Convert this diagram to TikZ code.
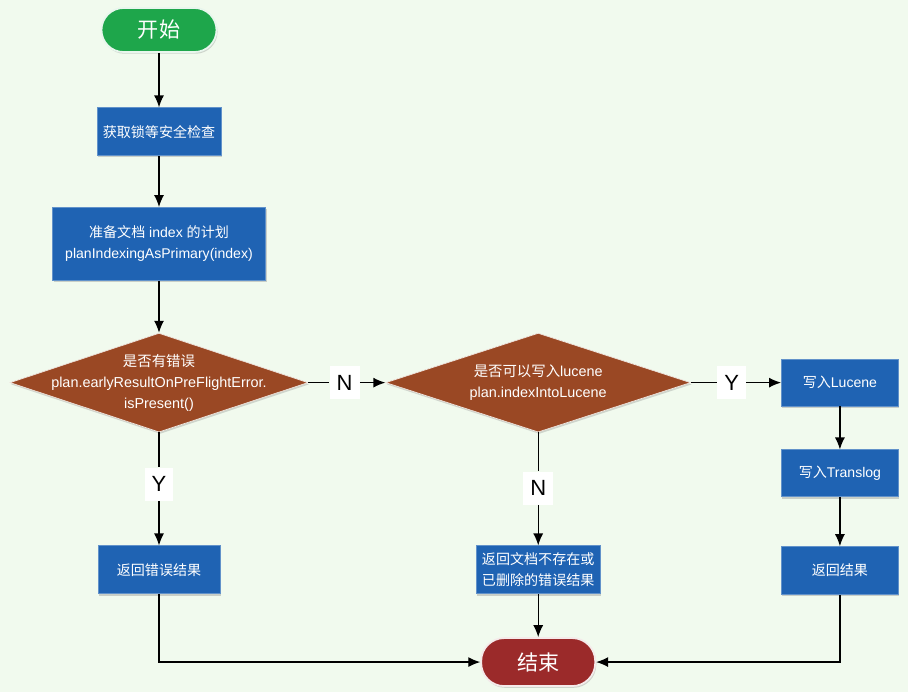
\documentclass[tikz,border=0pt]{standalone}
\usepackage{fontspec}
\setmainfont{Liberation Sans}
\newfontfamily\cjk{Noto Sans CJK SC}
\usepackage{xcolor}
\usetikzlibrary{arrows.meta, positioning, shapes.geometric, shadows}
\definecolor{fcbg}{HTML}{F1FAEE}
\definecolor{fcblue}{HTML}{1F63B3}
\definecolor{fcbrown}{HTML}{9A4824}
\definecolor{fcgreen}{HTML}{1EA64B}
\definecolor{fcred}{HTML}{9B2A2A}

\begin{document}
\begin{tikzpicture}[
  proc/.style={rectangle, fill=fcblue, draw=fcblue!70!white, text=white,
    minimum width=#1, minimum height=0.96cm, align=center,
    font=\fontsize{8}{12}\selectfont,
    drop shadow={shadow xshift=0.6pt, shadow yshift=-1pt, opacity=0.35}},
  proc/.default=2.44cm,
  decision/.style={diamond, fill=fcbrown, draw=white!85!fcbrown, thin,
    minimum width=#1, minimum height=1.98cm, inner sep=0pt,
    drop shadow={shadow xshift=0.6pt, shadow yshift=-1pt, opacity=0.3}},
  dtext/.style={text=white, align=center, font=\fontsize{8.2}{12}\selectfont},
  terminal/.style={rectangle, rounded corners=0.44cm, fill=#1, draw=white!90!#1,
    line width=1pt, text=white, minimum width=2.3cm, minimum height=0.88cm,
    font=\cjk\fontsize{12}{14}\selectfont,
    drop shadow={shadow xshift=0.6pt, shadow yshift=-1pt, opacity=0.3}},
  yn/.style={fill=white, font=\fontsize{12.5}{14}\selectfont, inner xsep=4pt, inner ysep=5pt},
  link/.style={-{Latex[length=2.4mm, width=2mm]}, line width=0.75pt},
  node distance=1.1cm,
]
  \fill[fcbg] (0,0) rectangle (18.16,-13.84);
  \useasboundingbox (0,0) rectangle (18.16,-13.84);

  % main column
  \node[terminal=fcgreen] (start) at (3.18,-0.60) {开始};
  \node[proc, below=1.09cm of start] (lock) {{\cjk 获取锁等安全检查}};
  \node[proc=4.26cm, minimum height=1.46cm, below=1.02cm of lock] (plan)
    {{\cjk 准备文档} index {\cjk 的计划}\\planIndexingAsPrimary(index)};
  \node[decision=5.96cm, below=1.04cm of plan] (haserr) {};
  \node[dtext] (haserrtxt) at (haserr) {{\cjk 是否有错误}\\plan.earlyResultOnPreFlightError.\\isPresent()};
  \node[proc, below=2.26cm of haserr] (reterr) {{\cjk 返回错误结果}};

  % middle column
  \node[decision=6.10cm, right=1.54cm of haserr] (canwrite) {};
  \node[dtext] (canwritetxt) at (canwrite) {{\cjk 是否可以写入}lucene\\plan.indexIntoLucene};
  \node[proc=2.48cm, below=2.26cm of canwrite] (retgone)
    {{\cjk 返回文档不存在或}\\{\cjk 已删除的错误结果}};
  \node[terminal=fcred, minimum width=2.28cm, minimum height=0.96cm,
    rounded corners=0.46cm, below=0.86cm of retgone] (finish) {结束};

  % right column
  \node[proc=2.34cm, minimum height=0.94cm, right=1.8cm of canwrite] (lucene) {{\cjk 写入}Lucene};
  \node[proc=2.34cm, minimum height=0.94cm, below=0.86cm of lucene] (translog) {{\cjk 写入}Translog};
  \node[proc=2.34cm, below=0.98cm of translog] (retok) {{\cjk 返回结果}};

  % Y / N labels
  \node[yn, right=0.42cm of haserr] (errN) {N};
  \node[yn, below=0.7cm of haserr] (errY) {Y};
  \node[yn, right=0.52cm of canwrite] (writeY) {Y};
  \node[yn, below=0.78cm of canwrite] (writeN) {N};

  \draw[link] (start) -- (lock);
  \draw[link] (lock) -- (plan);
  \draw[link] (plan) -- (haserr);
  \draw[line width=0.75pt] (haserr.east) -- (errN);
  \draw[link] (errN) -- (canwrite.west);
  \draw[line width=0.75pt] (haserr.south) -- (errY);
  \draw[link] (errY) -- (reterr);
  \draw[line width=0.75pt] (canwrite.east) -- (writeY);
  \draw[link] (writeY) -- (lucene);
  \draw[line width=0.75pt] (canwrite.south) -- (writeN);
  \draw[link] (writeN) -- (retgone);
  \draw[link] (lucene) -- (translog);
  \draw[link] (translog) -- (retok);
  \draw[link] (retgone) -- (finish);
  \draw[link] (reterr.south) |- (finish.west);
  \draw[link] (retok.south) |- (finish.east);
\end{tikzpicture}
\end{document}
